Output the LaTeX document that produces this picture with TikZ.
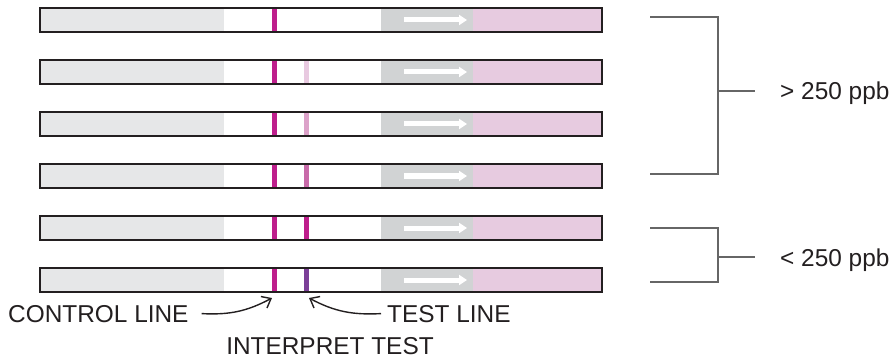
\documentclass[tikz,border=0pt]{standalone}
\usepackage{fontspec}
\setmainfont{Liberation Sans}
\usetikzlibrary{arrows.meta}
\definecolor{ink}{HTML}{231F20}
\definecolor{padgray}{HTML}{E6E7E8}
\definecolor{wickgray}{HTML}{D1D3D4}
\definecolor{padpink}{HTML}{E7CBE0}
\definecolor{ctrlmag}{HTML}{BE1E8C}
\definecolor{testA}{HTML}{E8C9E0}
\definecolor{testB}{HTML}{DCA2C9}
\definecolor{testC}{HTML}{C86AA9}
\definecolor{testD}{HTML}{BE1E8C}
\definecolor{testE}{HTML}{7B3F98}
\tikzset{
     halo/.style = { draw=black!22, line width=2.6pt },
  stripbox/.style = { draw=ink, line width=1.3pt },
      band/.style = { line width=5pt },
      flow/.style = { white, line width=5pt, -{Triangle[length=8pt,width=10pt]} },
     label/.style = { font=\fontsize{24.4}{28}\selectfont, text=ink, inner sep=0pt },
   callout/.style = { ink, line width=1.4pt, -{Straight Barb[length=8pt,width=13pt]} },
   bracket/.style = { color=black!60, line width=1.2pt }
}
\begin{document}
\begin{tikzpicture}[x=1pt,y=-1pt]
  \useasboundingbox (0,0) rectangle (893,358);

  % six test strips, test line getting stronger
  \foreach \i/\tc in {1/white, 2/testA, 3/testB, 4/testC, 5/testD, 6/testE}
  {
    \pgfmathsetmacro{\yt}{8+52*(\i-1)}
    \pgfmathsetmacro{\yb}{\yt+24}
    \pgfmathsetmacro{\yc}{\yt+12}
    \draw [halo] (40,\yt) rectangle (602,\yb);
    \fill [white] (40,\yt) rectangle (602,\yb);
    \fill [padgray] (40,\yt) rectangle (224,\yb);
    \fill [wickgray] (381,\yt) rectangle (473,\yb);
    \fill [padpink] (473,\yt) rectangle (602,\yb);
    \draw [band, ctrlmag] (274.5,\yt) -- (274.5,\yb);
    \draw [band, \tc] (306.5,\yt) -- (306.5,\yb);
    \draw [flow] (404,\yc) -- (467,\yc);
    \draw [stripbox] (40,\yt) rectangle (602,\yb);
  }

  \coordinate (ctrl) at (272,298);
  \coordinate (test) at (309,298);

  \node [label, anchor=base west] (ctrltxt) at (8,322) {CONTROL LINE};
  \node [label, anchor=base west] (testtxt) at (387,322) {TEST LINE};
  \node [label, anchor=base] (interp) at (330,354) {INTERPRET TEST};

  \draw [callout] ([xshift=13pt]ctrltxt.east) to[out=-3, in=208] (ctrl);
  \draw [callout] ([xshift=-6pt]testtxt.west) to[out=183, in=-28] (test);

  % brackets
  \coordinate (hitop) at (650,17);
  \coordinate (hibot) at (650,174);
  \coordinate (lotop) at (650,228);
  \coordinate (lobot) at (650,282);
  \node [label, anchor=base west] (hitxt) at (780,100) {> 250 ppb};
  \node [label, anchor=base west] (lotxt) at (780,266) {< 250 ppb};

  \draw [bracket] (hitop) -- (718,17) -- (718,174) -- (hibot);
  \draw [bracket] (718,91) -- (755,91);
  \draw [bracket] (lotop) -- (718,228) -- (718,282) -- (lobot);
  \draw [bracket] (718,257) -- (755,257);
\end{tikzpicture}
\end{document}
